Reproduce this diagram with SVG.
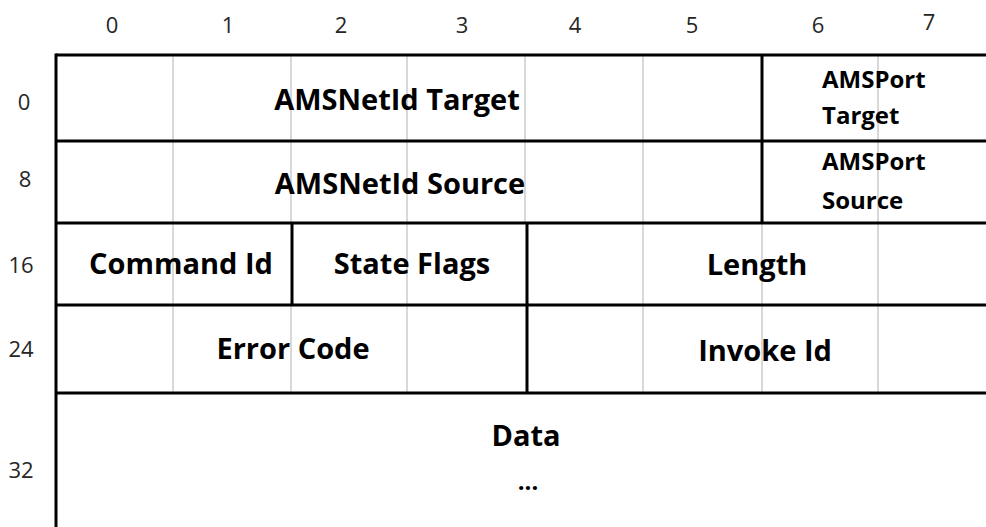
<svg xmlns="http://www.w3.org/2000/svg" width="986" height="527" viewBox="0 0 986 527">
<style>
.bg{fill:#ffffff}
.thin{stroke:#bfbfbf;stroke-width:1.2;fill:none}
.thick{stroke:#000000;stroke-width:3;fill:none}
.num{font-family:"Open Sans","Noto Sans",sans-serif;font-size:22px;fill:#262626;text-anchor:middle}
.lbl{font-family:"Open Sans","Noto Sans",sans-serif;font-size:29px;font-weight:bold;fill:#000;text-anchor:middle}
.sm{font-family:"Open Sans","Noto Sans",sans-serif;font-size:24px;font-weight:bold;fill:#000}
.dots{font-family:"Open Sans","Noto Sans",sans-serif;font-size:24px;font-weight:bold;fill:#000;text-anchor:middle}
</style>
<rect class="bg" x="0" y="0" width="986" height="527"/>
<g id="col-headers">
<text class="num" x="112" y="33">0</text>
<text class="num" x="228" y="33">1</text>
<text class="num" x="341" y="33">2</text>
<text class="num" x="462" y="33">3</text>
<text class="num" x="575" y="33">4</text>
<text class="num" x="692" y="33">5</text>
<text class="num" x="818" y="33">6</text>
<text class="num" x="929" y="30">7</text>
</g>
<g id="row-headers">
<text class="num" x="24" y="110">0</text>
<text class="num" x="25" y="187">8</text>
<text class="num" x="21" y="273">16</text>
<text class="num" x="21" y="357">24</text>
<text class="num" x="21" y="478">32</text>
</g>
<g id="grid">
<path class="thin" d="M173,55V393 M291,55V223 M291,305V393 M407,55V393 M525,55V223 M643,55V393 M762,223V393 M878,55V393"/>
</g>
<g id="connectors">
<path class="thick" d="M56,55H986 M56,141H986 M56,223H986 M56,305H986 M56,393H986"/>
<path class="thick" d="M56,53.5V527 M762,55V223 M292,223V305 M527,223V393"/>
</g>
<g id="amsnetid-target"><text class="lbl" x="397" y="110">AMSNetId Target</text></g>
<g id="amsport-target"><text class="sm" x="822" y="88">AMSPort</text><text class="sm" x="822" y="124">Target</text></g>
<g id="amsnetid-source"><text class="lbl" x="400" y="194">AMSNetId Source</text></g>
<g id="amsport-source"><text class="sm" x="822" y="170">AMSPort</text><text class="sm" x="822" y="209">Source</text></g>
<g id="command-id"><text class="lbl" x="181" y="274">Command Id</text></g>
<g id="state-flags"><text class="lbl" x="412" y="274">State Flags</text></g>
<g id="length"><text class="lbl" x="757" y="275">Length</text></g>
<g id="error-code"><text class="lbl" x="293" y="359">Error Code</text></g>
<g id="invoke-id"><text class="lbl" x="765" y="361">Invoke Id</text></g>
<g id="data"><text class="lbl" x="526" y="446">Data</text><text class="dots" x="528" y="490">...</text></g>
</svg>
